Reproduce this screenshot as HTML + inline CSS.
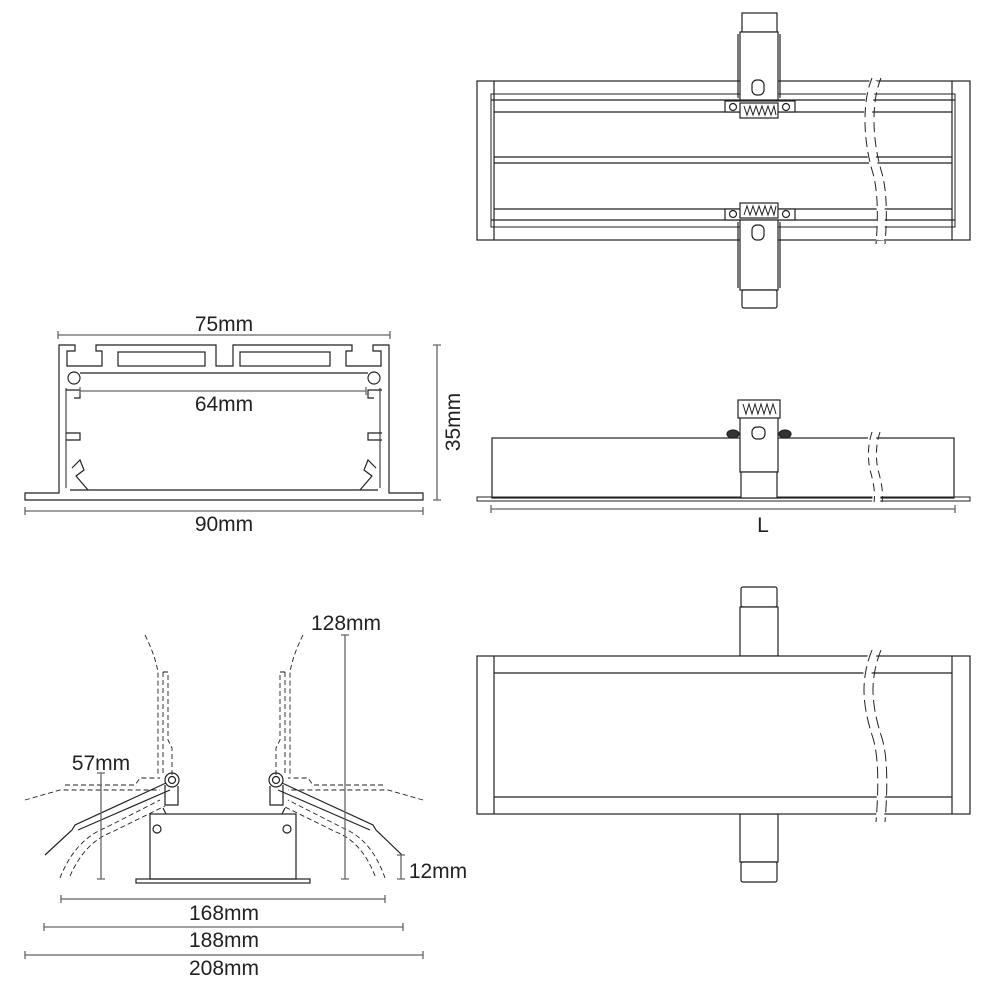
<!DOCTYPE html>
<html><head><meta charset="utf-8"><style>
html,body{margin:0;padding:0;background:#fff;}
svg{display:block;}
text{font-family:"Liberation Sans",sans-serif;fill:#222;}
</style></head><body>
<svg width="1000" height="1000" viewBox="0 0 1000 1000" xmlns="http://www.w3.org/2000/svg">
<g fill="none" stroke="#222" stroke-width="1.2">
<!-- ===== TOP VIEW ===== -->
<rect x="477" y="81" width="493" height="159"/>
<line x1="494" y1="81" x2="494" y2="240"/>
<line x1="952" y1="81" x2="952" y2="240"/>
<rect x="491" y="94" width="464" height="133" stroke-width="1"/>
<line x1="491" y1="100" x2="955" y2="100"/>
<line x1="494" y1="112" x2="952" y2="112"/>
<line x1="494" y1="157" x2="952" y2="157"/>
<line x1="494" y1="163" x2="952" y2="163"/>
<line x1="494" y1="209" x2="952" y2="209"/>
<line x1="491" y1="220" x2="955" y2="220"/>
<!-- top clip -->
<rect x="742" y="13" width="35" height="19" fill="#fff"/>
<rect x="740" y="32" width="38" height="68" fill="#fff"/>
<line x1="738" y1="34" x2="738" y2="98"/><line x1="780" y1="34" x2="780" y2="98"/>
<rect x="752" y="80" width="12" height="15" rx="5"/>
<rect x="725" y="101" width="70" height="11" fill="#fff"/>
<rect x="740" y="103" width="38" height="15" fill="#fff"/>
<path d="M744 106 l3 9 l3 -9 l3 9 l3 -9 l3 9 l3 -9 l3 9 l3 -9 l3 9 l3 -9 l2 9" stroke-width="1"/>
<circle cx="733" cy="107" r="3.5"/><circle cx="786" cy="107" r="3.5"/>
<!-- bottom clip -->
<rect x="725" y="209" width="70" height="11" fill="#fff"/>
<rect x="740" y="203" width="38" height="15" fill="#fff"/>
<path d="M744 215 l3 -9 l3 9 l3 -9 l3 9 l3 -9 l3 9 l3 -9 l3 9 l3 -9 l3 9 l2 -9" stroke-width="1"/>
<circle cx="733" cy="214" r="3.5"/><circle cx="786" cy="214" r="3.5"/>
<rect x="740" y="220" width="38" height="70" fill="#fff"/>
<line x1="738" y1="222" x2="738" y2="288"/><line x1="780" y1="222" x2="780" y2="288"/>
<rect x="752" y="225" width="12" height="15" rx="5"/>
<rect x="742" y="290" width="35" height="18" rx="2" fill="#fff"/>
<!-- break -->
<path d="M874 80 Q868 95 868 120 Q868 145 875 170 Q883 195 880 240" stroke="#fff" stroke-width="8"/>
<path d="M872 78 Q865 95 865 120 Q865 145 872 170 Q880 195 876 244" stroke-dasharray="10 5" stroke-width="1"/>
<path d="M881 78 Q874 95 874 120 Q874 145 881 170 Q889 195 885 244" stroke-dasharray="10 5" stroke-width="1"/>

<!-- ===== SIDE VIEW ===== -->
<rect x="492" y="438" width="462" height="60"/>
<rect x="477" y="497" width="493" height="4" stroke-width="1"/>
<rect x="740" y="413" width="38" height="59" fill="#fff"/>
<rect x="741" y="472" width="36" height="26" fill="#fff"/>
<rect x="738" y="400" width="42" height="18" fill="#fff"/>
<path d="M743 404 l3 10 l3 -10 l3 10 l3 -10 l3 10 l3 -10 l3 10 l3 -10 l3 10 l3 -10 l3 10" stroke-width="1"/>
<rect x="752" y="427" width="13" height="12" rx="5"/>
<ellipse cx="733" cy="434" rx="6" ry="4" fill="#333"/><ellipse cx="785" cy="434" rx="6" ry="4" fill="#333"/>
<path d="M874 430 Q868 450 872 470 Q878 490 876 502" stroke="#fff" stroke-width="8"/>
<path d="M872 432 Q866 450 870 470 Q876 490 874 502" stroke-dasharray="8 5" stroke-width="1"/>
<path d="M880 432 Q874 450 878 470 Q884 490 882 502" stroke-dasharray="8 5" stroke-width="1"/>

<!-- ===== BOTTOM VIEW ===== -->
<rect x="741" y="587" width="36" height="20" rx="2" fill="#fff"/>
<rect x="740" y="607" width="38" height="49" fill="#fff"/>
<rect x="740" y="814" width="38" height="48" fill="#fff"/>
<rect x="741" y="862" width="36" height="20" rx="2" fill="#fff"/>
<rect x="477" y="656" width="493" height="158" fill="#fff"/>
<line x1="494" y1="656" x2="494" y2="814"/>
<line x1="952" y1="656" x2="952" y2="814"/>
<line x1="494" y1="673" x2="952" y2="673"/>
<line x1="494" y1="797" x2="952" y2="797"/>
<path d="M874 650 Q866 670 866 690 Q866 710 874 735 Q883 760 880 820" stroke="#fff" stroke-width="8"/>
<path d="M872 650 Q864 670 864 690 Q864 710 872 735 Q881 760 876 822" stroke-dasharray="12 5" stroke-width="1"/>
<path d="M881 650 Q873 670 873 690 Q873 710 881 735 Q890 760 885 822" stroke-dasharray="12 5" stroke-width="1"/>

<!-- ===== CROSS SECTION ===== -->
<path d="M25 493 L59 493 L59 345 L75 345 L75 351 L67 351 L67 366 L102 366 L102 351 L96 351 L96 345 L216 345 L216 366 L233 366 L233 345 L352 345 L352 351 L346 351 L346 366 L381 366 L381 351 L373 351 L373 345 L389 345 L389 493 L423 493 L423 500 L25 500 Z"/>
<rect x="118" y="352" width="87" height="14"/>
<rect x="240" y="352" width="90" height="14"/>
<line x1="80" y1="373" x2="368" y2="373"/>
<circle cx="74" cy="378" r="6"/><circle cx="374" cy="378" r="6"/>
<path d="M66 388 L66 488 M380 388 L380 488" stroke-width="1"/>
<path d="M66 390 L80 390 L80 398 L74 398 M382 390 L368 390 L368 398 L374 398"/>
<path d="M66 433 L80 433 L80 440 L66 440 M382 433 L368 433 L368 440 L382 440"/>
<path d="M72 468 L80 460 L84 470 L76 476 L88 490 M376 468 L368 460 L364 470 L372 476 L360 490"/>
<line x1="70" y1="490" x2="378" y2="490"/>

<!-- ===== BOTTOM-LEFT (installation) ===== -->
<rect x="150" y="814" width="146" height="65"/>
<rect x="136" y="879" width="174" height="4"/>
<circle cx="157" cy="829" r="4"/><circle cx="287" cy="829" r="4"/>
<circle cx="172" cy="780" r="7"/><circle cx="172" cy="780" r="3.5"/>
<circle cx="276" cy="780" r="7"/><circle cx="276" cy="780" r="3.5"/>
<path d="M165 785 L165 805 L178 805 L178 786 M283 785 L283 805 L270 805 L270 786"/>
<path d="M163 808 l3 6 M285 808 l-3 6"/>
<path d="M166 783 L75 825 L72 830 L45 855 M170 790 L78 830 M282 783 L373 825 L376 830 L402 855 M278 790 L370 830"/>
<g stroke-dasharray="5 3" stroke-width="0.9">
<path d="M145 635 Q155 655 158 672 L158 775 M163 672 L163 775 M163 672 L168 672 L168 740 L172 748 L172 775"/>
<path d="M303 635 Q293 655 290 672 L290 775 M285 672 L285 775 M285 672 L280 672 L280 740 L276 748 L276 775"/>
<path d="M25 800 L60 790 L160 790 M65 785 L135 785 L140 778 L160 778"/>
<path d="M423 800 L388 790 L288 790 M383 785 L313 785 L308 778 L288 778"/>
<path d="M60 878 Q75 840 105 828 L160 800 M70 876 Q85 842 112 832 L165 806"/>
<path d="M385 878 Q372 840 343 828 L288 800 M375 876 Q362 842 336 832 L283 806"/>
</g>
</g>

<!-- dimension lines -->
<g stroke="#666" stroke-width="1.3" fill="none">
<path d="M58 335 L390 335 M58 331 L58 339 M390 331 L390 339"/>
<path d="M80 391 L366 391 M80 387 L80 395 M366 387 L366 395"/>
<path d="M25 511 L423 511 M25 507 L25 515 M423 507 L423 515"/>
<path d="M437 345 L437 500 M433 345 L441 345 M433 500 L441 500"/>
<path d="M491 509 L955 509 M491 505 L491 513 M955 505 L955 513"/>
<path d="M101 773 L101 879 M97 773 L105 773 M97 879 L105 879"/>
<path d="M345 635 L345 879 M341 635 L349 635 M341 879 L349 879"/>
<path d="M401 855 L401 879 M397 855 L405 855 M397 879 L405 879"/>
<path d="M61 899 L385 899 M61 895 L61 903 M385 895 L385 903"/>
<path d="M44 927 L403 927 M44 923 L44 931 M403 923 L403 931"/>
<path d="M25 955 L423 955 M25 951 L25 959 M423 951 L423 959"/>
</g>

<g font-size="21" text-anchor="middle">
<text x="224" y="331">75mm</text>
<text x="224" y="411">64mm</text>
<text x="224" y="531">90mm</text>
<text x="763" y="532">L</text>
<text x="224" y="920">168mm</text>
<text x="224" y="947">188mm</text>
<text x="224" y="975">208mm</text>
<text x="101" y="770">57mm</text>
<text x="346" y="630">128mm</text>
<text x="438" y="878">12mm</text>
<text transform="translate(460 422) rotate(-90)">35mm</text>
</g>
</svg>
</body></html>
